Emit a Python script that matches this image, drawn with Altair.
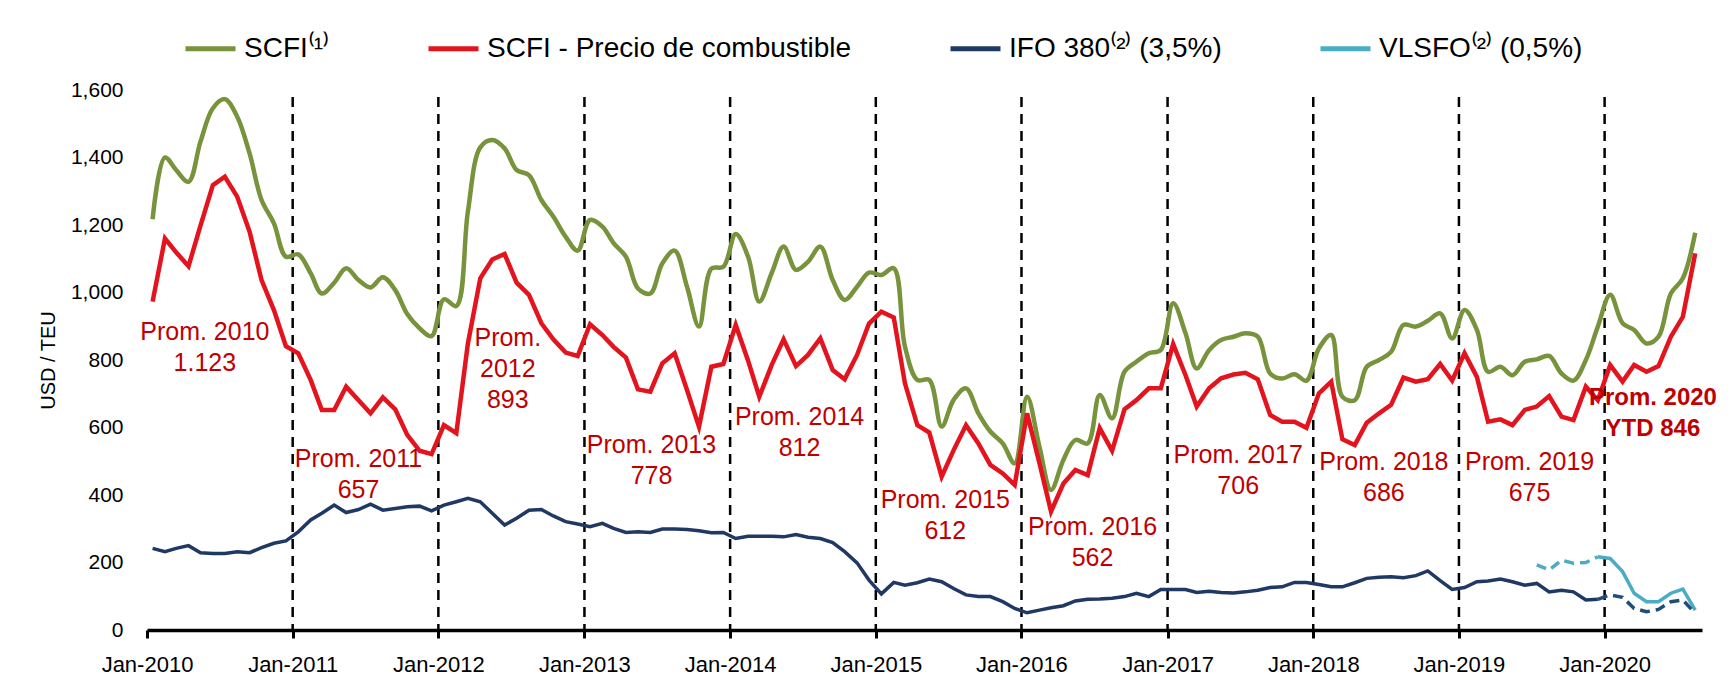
import altair as alt
import pandas as pd

# ---------------- data ----------------
month_starts = pd.date_range("2010-01-01", "2020-08-01", freq="MS")
months = [(d + pd.Timedelta(days=14)).strftime("%Y-%m-%dT00:00:00") for d in month_starts]

scfi = [1217, 1400, 1363, 1328, 1447, 1546, 1573, 1521, 1412, 1274, 1205, 1106,
        1113, 1057, 997, 1029, 1072, 1037, 1015, 1045, 1007, 936, 894, 871,
        980, 960, 1240, 1430, 1452, 1427, 1363, 1348, 1274, 1225, 1165, 1124,
        1215, 1195, 1146, 1106, 1012, 997, 1086, 1124, 1017, 899, 1071, 1076,
        1173, 1106, 973, 1057, 1136, 1067, 1091, 1136, 1037, 978, 1017, 1059,
        1052, 1072, 840, 741, 741, 603, 682, 716, 642, 588, 553, 494,
        691, 543, 415, 504, 563, 553, 696, 627, 765, 795, 820, 830,
        968, 879, 775, 829, 859, 869, 879, 869, 760, 745, 758, 739,
        834, 874, 691, 681, 780, 800, 824, 904, 899, 916, 938, 864,
        948, 889, 765, 780, 755, 795, 802, 812, 760, 739, 800, 899,
        993, 909, 889, 849, 869, 997, 1042, 1177]

scfi_fuel = [973, 1160, 1119, 1078, 1198, 1318, 1343, 1284, 1180, 1037, 948, 841,
             820, 741, 652, 652, 721, 681, 642, 689, 654, 578, 531, 521,
             607, 583, 849, 1042, 1098, 1114, 1029, 993, 909, 861, 822, 812,
             906, 874, 839, 807, 713, 706, 790, 820, 711, 602, 780, 788,
             904, 798, 691, 785, 861, 782, 815, 864, 770, 743, 815, 908,
             943, 926, 731, 607, 585, 454, 533, 607, 553, 489, 464, 430,
             642, 494, 351, 434, 474, 459, 598, 531, 654, 681, 716, 716,
             847, 755, 662, 716, 746, 757, 762, 743, 637, 617, 617, 599,
             701, 736, 565, 548, 614, 642, 667, 748, 736, 743, 788, 739,
             820, 750, 617, 624, 607, 652, 662, 693, 632, 622, 721, 681,
             785, 736, 785, 765, 782, 869, 928, 1116]

ifo380 = [242, 232, 242, 250, 229, 227, 227, 232, 229, 244, 257, 264,
          291, 326, 346, 370, 348, 357, 373, 355, 360, 365, 367, 353,
          370, 380, 390, 380, 346, 311, 331, 355, 357, 338, 321, 314,
          306, 316, 301, 289, 291, 289, 299, 299, 298, 294, 288, 289,
          271, 278, 278, 278, 276, 283, 275, 271, 259, 232, 199, 148,
          107, 141, 133, 140, 151, 143, 123, 104, 99, 99, 84, 64,
          51, 59, 66, 72, 86, 91, 92, 94, 99, 109, 99, 120,
          120, 120, 111, 115, 111, 110, 113, 118, 126, 128, 141, 141,
          135, 128, 128, 140, 153, 156, 158, 155, 161, 175, 146, 120,
          126, 143, 145, 151, 143, 133, 138, 113, 118, 113, 89, 91]
ifo380_2020 = [91, 104, 97, 64, 54, 61, 84, 89, 49]          # Dec-2019 .. Aug-2020 (dashed)
vlsfo_pre = [193, 178, 207, 198, 200, 217]                   # Jul-2019 .. Dec-2019 (dashed)
vlsfo = [217, 212, 173, 109, 84, 84, 109, 121, 59]           # Dec-2019 .. Aug-2020

series_names = ["SCFI⁽¹⁾", "SCFI - Precio de combustible", "IFO 380⁽²⁾ (3,5%)", "VLSFO⁽²⁾ (0,5%)"]
series_colors = ["#77933c", "#e3141e", "#1f3864", "#4bacc6"]

year_lines = [f"{y}-01-01T00:00:00" for y in range(2011, 2021)]

ann_text = ["Prom. 2010\n1.123", "Prom. 2011\n657", "Prom.\n2012\n893", "Prom. 2013\n778",
            "Prom. 2014\n812", "Prom. 2015\n612", "Prom. 2016\n562", "Prom. 2017\n706",
            "Prom. 2018\n686", "Prom. 2019\n675"]
ann_date = ["2010-05-26", "2011-06-15", "2012-06-23", "2013-06-18", "2014-06-24",
            "2015-06-24", "2016-06-27", "2017-06-27", "2018-06-27", "2019-06-27"]
ann_value = [883, 507, 865, 548, 631, 385, 305, 519, 498, 498]
ytd_text = ["Prom. 2020\nYTD 846"]
ytd_date = ["2020-05-01"]
ytd_value = [687]

# ---------------- tables ----------------
df = pd.concat([
    pd.DataFrame({"date": months, "value": scfi, "series": series_names[0]}),
    pd.DataFrame({"date": months, "value": scfi_fuel, "series": series_names[1]}),
    pd.DataFrame({"date": months[:len(ifo380)], "value": ifo380, "series": series_names[2]}),
    pd.DataFrame({"date": months[-len(vlsfo):], "value": vlsfo, "series": series_names[3]}),
])
df_ifo_dash = pd.DataFrame({"date": months[-len(ifo380_2020):], "value": ifo380_2020})
df_vlsfo_dash = pd.DataFrame({"date": months[119 - len(vlsfo_pre) + 1:120], "value": vlsfo_pre})
df_rules = pd.DataFrame({"date": year_lines})
df_ann = pd.DataFrame({"date": [d + "T00:00:00" for d in ann_date], "value": ann_value, "text": ann_text})
df_ytd = pd.DataFrame({"date": [d + "T00:00:00" for d in ytd_date], "value": ytd_value, "text": ytd_text})

FONT = "Liberation Sans"

x_enc = alt.X(
    "date:T",
    scale=alt.Scale(domain=[alt.DateTime(year=2010, month=1, date=1),
                            alt.DateTime(year=2020, month=9, date=1)]),
    axis=alt.Axis(
        values=[alt.DateTime(year=y, month=1, date=1) for y in range(2010, 2021)],
        format="%b-%Y", title=None, grid=False,
        labelFont=FONT, labelFontSize=22, labelColor="black", labelPadding=16,
        domainColor="black", domainWidth=3.5,
        tickColor="black", tickWidth=3, tickSize=8, labelFlush=False, labelOverlap=False,
    ),
)
y_enc = alt.Y(
    "value:Q",
    scale=alt.Scale(domain=[0, 1600], nice=False),
    axis=alt.Axis(
        values=list(range(0, 1601, 200)), format=",d",
        title="USD / TEU", titleFont=FONT, titleFontSize=20, titleFontWeight="normal",
        titleColor="black", titlePadding=12,
        labelFont=FONT, labelFontSize=21, labelColor="black", labelPadding=24,
        grid=False, domain=False, ticks=False,
    ),
)

color_scale = alt.Scale(domain=series_names, range=series_colors)
legend = alt.Legend(
    orient="none", legendX=36, legendY=-69, direction="horizontal", title=None,
    symbolType="stroke", symbolSize=2500, symbolStrokeWidth=5,
    labelFont=FONT, labelFontSize=28, labelColor="black", labelLimit=0,
    labelOffset=6, columnPadding=88, padding=0,
)
color_enc = alt.Color("series:N", scale=color_scale, legend=legend)


def series_line(name, **mark_kw):
    return (alt.Chart(df).transform_filter(alt.datum.series == name)
            .mark_line(**mark_kw).encode(x=x_enc, y=y_enc, color=color_enc))


rules = alt.Chart(df_rules).mark_rule(color="black", strokeWidth=2.5, strokeDash=[10, 7]).encode(
    x="date:T", y=alt.value(7), y2=alt.value(540))

ifo_line = series_line(series_names[2], strokeWidth=3.5)
vlsfo_line = series_line(series_names[3], strokeWidth=3.5)
ifo_dash = alt.Chart(df_ifo_dash).mark_line(color="#1f4e79", strokeWidth=3.5, strokeDash=[10, 6]).encode(
    x="date:T", y="value:Q")
vlsfo_dash = alt.Chart(df_vlsfo_dash).mark_line(color="#4bacc6", strokeWidth=3.5, strokeDash=[10, 6]).encode(
    x="date:T", y="value:Q")
green = series_line(series_names[0], strokeWidth=4.5, interpolate="catmull-rom")
red = series_line(series_names[1], strokeWidth=4.5)

ann = alt.Chart(df_ann).mark_text(
    font=FONT, fontSize=25, color="#c00000", lineBreak="\n", lineHeight=31,
    align="center", baseline="middle").encode(x="date:T", y="value:Q", text="text:N")
ytd = alt.Chart(df_ytd).mark_text(
    font=FONT, fontSize=24, fontWeight="bold", color="#c00000", lineBreak="\n", lineHeight=31,
    align="center", baseline="middle").encode(x="date:T", y="value:Q", text="text:N")

chart = alt.layer(rules, ifo_line, vlsfo_dash, vlsfo_line, ifo_dash, green, red, ann, ytd).properties(
    width=1555, height=540,
    autosize=alt.AutoSizeParams(type="none"),
    padding={"left": 139, "top": 82, "right": 21, "bottom": 55},
    background="white",
).configure_view(stroke=None)

chart.save("out.html", embed_options={"renderer": "svg", "actions": False})
